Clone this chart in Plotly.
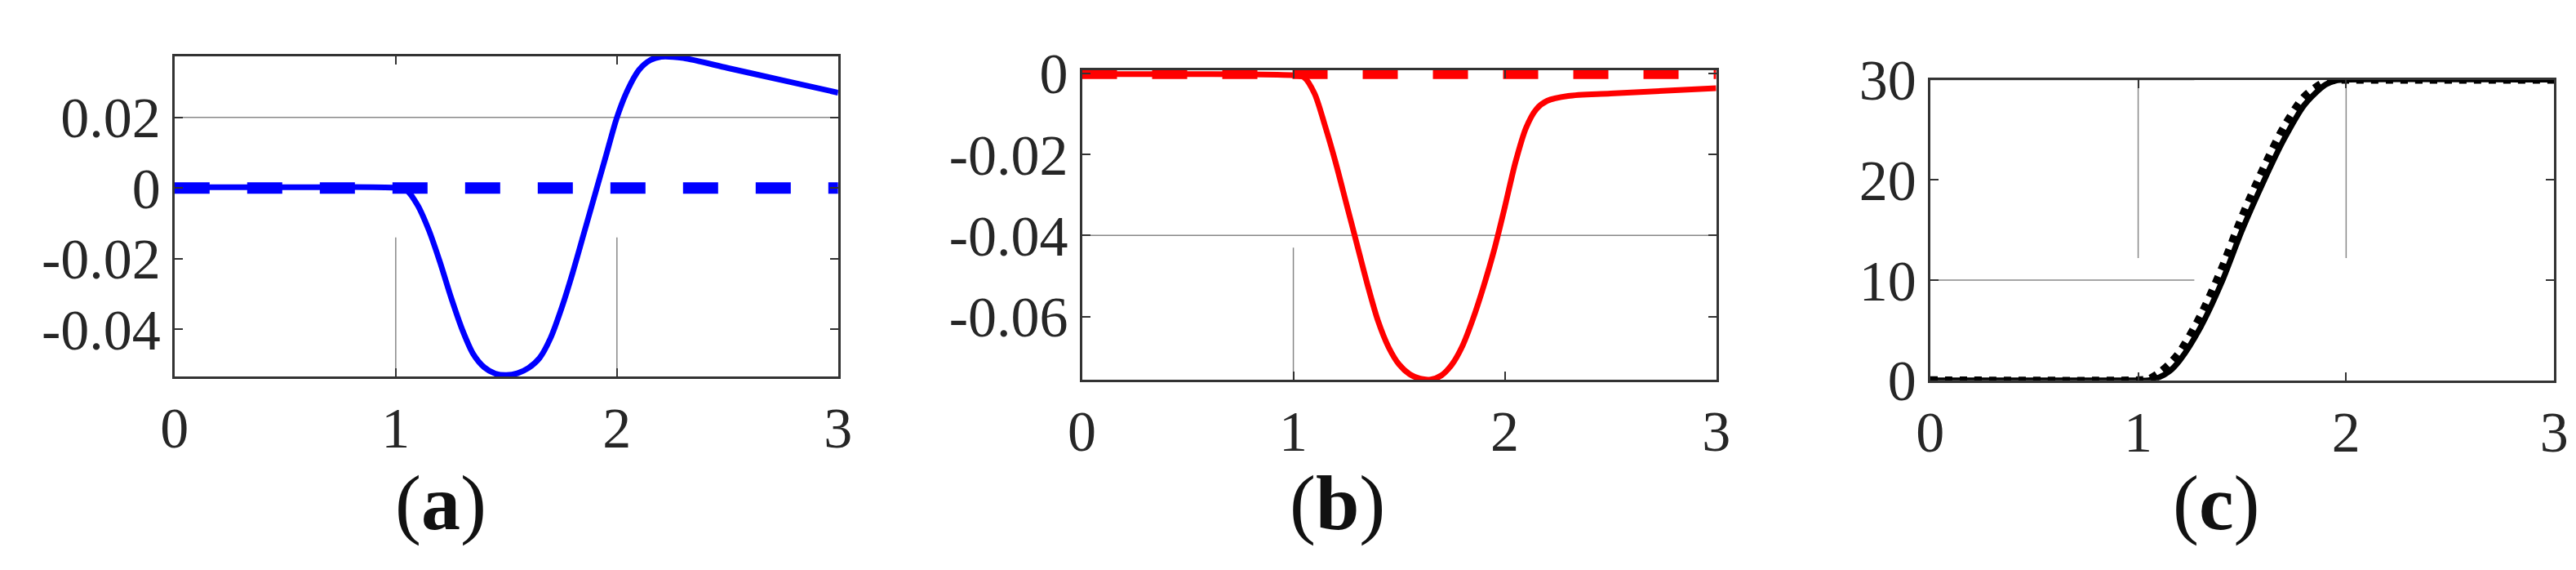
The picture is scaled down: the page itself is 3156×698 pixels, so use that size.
import plotly.graph_objects as go

xa = [0, 0.5, 1.0, 1.05, 1.1, 1.15, 1.2, 1.25, 1.3, 1.35, 1.4, 1.45, 1.5, 1.55, 1.6, 1.65, 1.7, 1.75, 1.8, 1.85, 1.9, 1.95, 2.0, 2.05, 2.1, 2.15, 2.2, 2.3, 2.5, 2.75, 3.0]
ya = [0.0002, 0.0002, 0.0, -0.0007, -0.005, -0.012, -0.021, -0.031, -0.04, -0.047, -0.0508, -0.0526, -0.053, -0.0525, -0.051, -0.0482, -0.0425, -0.034, -0.024, -0.013, -0.002, 0.009, 0.02, 0.028, 0.0335, 0.0362, 0.0372, 0.0368, 0.034, 0.0305, 0.027]
xb = [0, 0.5, 1.0, 1.05, 1.1, 1.15, 1.2, 1.25, 1.3, 1.35, 1.4, 1.45, 1.5, 1.55, 1.6, 1.65, 1.7, 1.75, 1.8, 1.85, 1.9, 1.95, 2.0, 2.05, 2.1, 2.15, 2.2, 2.3, 2.5, 3.0]
yb = [-0.0002, -0.0002, -0.0005, -0.001, -0.005, -0.013, -0.022, -0.032, -0.042, -0.052, -0.061, -0.0675, -0.0718, -0.0742, -0.0753, -0.0755, -0.0745, -0.0718, -0.0672, -0.0605, -0.0525, -0.0435, -0.033, -0.022, -0.0135, -0.0088, -0.0068, -0.0056, -0.005, -0.0037]
xc = [0, 1.0, 1.05, 1.1, 1.15, 1.2, 1.3, 1.4, 1.5, 1.6, 1.7, 1.8, 1.9, 1.95, 2.0, 3.0]
yc_solid = [0, 0, 0, 0.3, 0.9, 2, 5.3, 9.7, 15, 19.7, 24, 27.5, 29.5, 29.9, 30, 30]
yc_dot = [0, 0, 0.1, 0.7, 1.6, 2.8, 6.4, 11, 16.3, 21, 25.2, 28.3, 29.8, 30, 30, 30]
ref_x = [0, 3]
ref_zero = [0, 0]

xticks = [0, 1, 2, 3]
ya_ticks = [-0.04, -0.02, 0, 0.02]
yb_ticks = [-0.06, -0.04, -0.02, 0]
yc_ticks = [0, 10, 20, 30]

fig = go.Figure()
fig.add_trace(go.Scatter(x=ref_x, y=ref_zero, mode="lines", line=dict(color="#0000ff", width=14, dash="43px,46px"), xaxis="x", yaxis="y"))
fig.add_trace(go.Scatter(x=xa, y=ya, mode="lines", line=dict(color="#0000ff", width=7, shape="spline", smoothing=0.8), xaxis="x", yaxis="y"))
fig.add_trace(go.Scatter(x=ref_x, y=ref_zero, mode="lines", line=dict(color="#ff0000", width=14, dash="43px,43px"), xaxis="x2", yaxis="y2"))
fig.add_trace(go.Scatter(x=xb, y=yb, mode="lines", line=dict(color="#ff0000", width=7, shape="spline", smoothing=0.8), xaxis="x2", yaxis="y2"))
fig.add_trace(go.Scatter(x=xc, y=yc_solid, mode="lines", line=dict(color="#000000", width=7, shape="spline", smoothing=0.8), xaxis="x3", yaxis="y3"))
fig.add_trace(go.Scatter(x=xc, y=yc_dot, mode="lines", line=dict(color="#000000", width=10, dash="9px,9px", shape="spline", smoothing=0.8), xaxis="x3", yaxis="y3"))

font = dict(family="Liberation Serif, DejaVu Serif, serif", size=70, color="#262626")
common = dict(showgrid=False, zeroline=False, showline=True, linecolor="#333333", linewidth=3,
              mirror="ticks", ticks="inside", ticklen=10, tickcolor="#333333", tickwidth=2, tickfont=font)

def xaxis(dom, anchor):
    return dict(common, domain=dom, anchor=anchor, range=[0, 3], tickvals=xticks, ticktext=[str(v) for v in xticks])

def fmt(v):
    return "0" if v == 0 else ("%g" % v)

fig.update_layout(
    width=3156, height=698, showlegend=False, plot_bgcolor="white", paper_bgcolor="white",
    margin=dict(l=0, r=0, t=0, b=0),
    xaxis=xaxis([0.0605, 0.321], "y"),
    yaxis=dict(common, domain=[0.331, 0.963], anchor="x", range=[-0.0535, 0.0373], tickvals=ya_ticks, ticktext=[fmt(v) for v in ya_ticks]),
    xaxis2=xaxis([0.4167, 0.6657], "y2"),
    yaxis2=dict(common, domain=[0.325, 0.936], anchor="x2", range=[-0.0756, 0.0008], tickvals=yb_ticks, ticktext=[fmt(v) for v in yb_ticks]),
    xaxis3=xaxis([0.7497, 0.9946], "y3"),
    yaxis3=dict(common, domain=[0.324, 0.917], anchor="x3", range=[0, 30], tickvals=yc_ticks, ticktext=[str(v) for v in yc_ticks]),
)

grid = dict(color="#888888", width=1.5)
shapes = [
    dict(type="line", xref="x", yref="y", x0=0, x1=3, y0=0.02, y1=0.02, line=grid, layer="below"),
    dict(type="line", xref="x", yref="y", x0=1, x1=1, y0=-0.0535, y1=-0.014, line=grid, layer="below"),
    dict(type="line", xref="x", yref="y", x0=2, x1=2, y0=-0.0535, y1=-0.014, line=grid, layer="below"),
    dict(type="line", xref="x2", yref="y2", x0=0, x1=3, y0=-0.04, y1=-0.04, line=grid, layer="below"),
    dict(type="line", xref="x2", yref="y2", x0=1, x1=1, y0=-0.0756, y1=-0.043, line=grid, layer="below"),
    dict(type="line", xref="x3", yref="y3", x0=0, x1=1.27, y0=10, y1=10, line=grid, layer="below"),
    dict(type="line", xref="x3", yref="y3", x0=0, x1=1.27, y0=30, y1=30, line=grid, layer="below"),
    dict(type="line", xref="x3", yref="y3", x0=1, x1=1, y0=12.2, y1=30, line=grid, layer="below"),
    dict(type="line", xref="x3", yref="y3", x0=2, x1=2, y0=12.2, y1=30, line=grid, layer="below"),
]
fig.update_layout(shapes=shapes)

lab_font = dict(family="Liberation Serif, DejaVu Serif, serif", size=96, color="#111111")
for txt, xp in [("(<b>a</b>)", 0.165), ("(<b>b</b>)", 0.517), ("(<b>c</b>)", 0.862)]:
    fig.add_annotation(text=txt, x=xp, y=0.083, xref="paper", yref="paper", showarrow=False, font=lab_font, xanchor="center", yanchor="middle")

fig.write_html("out.html")
